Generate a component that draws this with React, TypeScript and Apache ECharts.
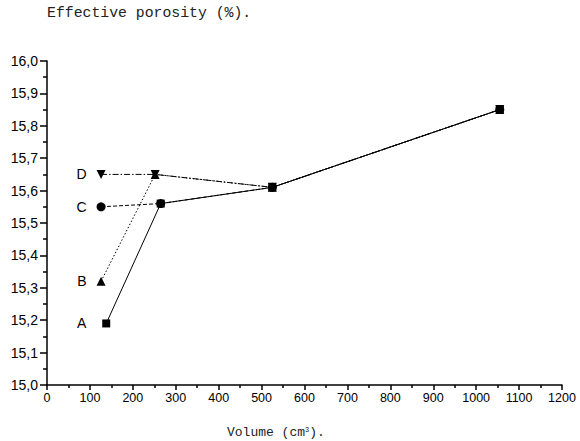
import React, { useEffect, useRef } from "react";
import * as echarts from "echarts";

const seriesNames = ["A", "B", "C", "D"];
const volumeA = [138, 265, 525, 1055];
const porosityA = [15.19, 15.56, 15.61, 15.85];
const volumeB = [126, 252, 525, 1055];
const porosityB = [15.32, 15.65, 15.61, 15.85];
const volumeC = [126, 265, 525, 1055];
const porosityC = [15.55, 15.56, 15.61, 15.85];
const volumeD = [126, 252, 525, 1055];
const porosityD = [15.65, 15.65, 15.61, 15.85];

const pairs = (xs: number[], ys: number[]) => xs.map((x, i) => [x, ys[i]]);

export default function App() {
  const ref = useRef<HTMLDivElement>(null);
  useEffect(() => {
    if (!ref.current) return;
    const chart = echarts.init(ref.current, null, { renderer: "svg" });
    const mk = (
      name: string,
      data: number[][],
      symbol: string,
      size: number,
      type: any,
      labelDist: number,
      rotate = 0
    ) => ({
      name,
      type: "line",
      data: data.map((d, i) =>
        i === 0
          ? {
              value: d,
              label: {
                show: true,
                position: "left",
                distance: labelDist,
                formatter: name,
                fontFamily: "Liberation Sans, Arial",
                fontSize: 14,
                color: "#000",
              },
            }
          : { value: d }
      ),
      symbol,
      symbolSize: size,
      symbolRotate: rotate,
      showAllSymbol: true,
      itemStyle: { color: "#000" },
      lineStyle: { color: "#000", width: 1, type },
      z: 3,
    });
    chart.setOption({
      animation: false,
      backgroundColor: "#fff",
      grid: { left: 47, right: 18, top: 61, bottom: 56, containLabel: false },
      graphic: [
        {
          type: "text",
          left: 47,
          top: 5,
          style: {
            text: "Effective porosity (%).",
            font: "14.8px 'Liberation Mono', 'Courier New', monospace",
            fill: "#222",
          },
        },
        {
          type: "text",
          left: 227,
          top: 426,
          style: {
            text: "Volume (cm{sup|3}).",
            font: "13px 'Liberation Mono', 'Courier New', monospace",
            fill: "#222",
            rich: {
              sup: {
                fontSize: 7,
                fontFamily: "Liberation Mono",
                verticalAlign: "top",
                padding: [0, 0, 6, 0],
              },
            },
          },
        },
      ],
      xAxis: {
        type: "value",
        min: 0,
        max: 1200,
        interval: 100,
        axisLine: { show: true, lineStyle: { color: "#000", width: 1.5 } },
        axisTick: { show: true, length: 5, lineStyle: { color: "#000", width: 1.5 } },
        minorTick: { show: true, splitNumber: 2, length: 3, lineStyle: { color: "#000", width: 1.5 } },
        splitLine: { show: false },
        axisLabel: {
          color: "#000",
          fontFamily: "Liberation Sans, Arial",
          fontSize: 12.5,
          margin: 6,
          formatter: (v: number) => String(v),
        },
      },
      yAxis: {
        type: "value",
        min: 15.0,
        max: 16.0,
        interval: 0.1,
        axisLine: { show: true, lineStyle: { color: "#000", width: 1.5 } },
        axisTick: { show: true, length: 7, lineStyle: { color: "#000", width: 1.5 } },
        minorTick: { show: true, splitNumber: 2, length: 4, lineStyle: { color: "#000", width: 1.5 } },
        splitLine: { show: false },
        axisLabel: {
          color: "#000",
          fontFamily: "Liberation Sans, Arial",
          fontSize: 14,
          margin: 9,
          formatter: (v: number) => v.toFixed(1).replace(".", ","),
        },
      },
      series: [
        mk(seriesNames[0], pairs(volumeA, porosityA), "rect", 8, "solid", 16),
        mk(seriesNames[1], pairs(volumeB, porosityB), "triangle", 9, [1.5, 2], 10),
        mk(seriesNames[2], pairs(volumeC, porosityC), "circle", 9, [4, 2], 10),
        mk(seriesNames[3], pairs(volumeD, porosityD), "triangle", 9, [6, 2, 1.5, 2], 10, 180),
      ],
    });
    return () => chart.dispose();
  }, []);
  return (
    <div
      ref={ref}
      style={{ position: "absolute", left: 0, top: 0, width: 580, height: 441 }}
    />
  );
}
